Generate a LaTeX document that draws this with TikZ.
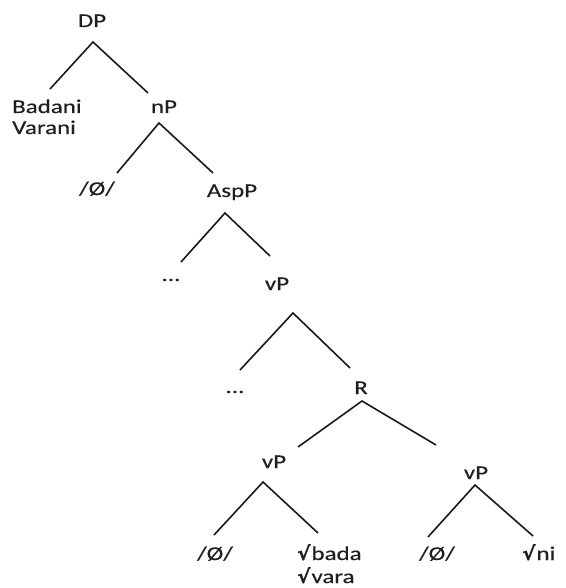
\documentclass[tikz,border=0pt]{standalone}
\usepackage{fontspec}
\setmainfont[FakeStretch=1.28, FakeBold=0.3]{Carlito}
\newfontfamily\rootfont[FakeStretch=1.05, FakeBold=0.8]{DejaVu Sans Bold}
\newcommand{\rt}{{\rootfont\fontsize{19}{19}\selectfont √}\kern1pt}
\begin{document}
\begin{tikzpicture}[x=1pt,y=-1pt,
  lbl/.style={inner sep=0pt, anchor=base, text=black!88,
    font=\fontsize{19.5}{22}\selectfont},
  branch/.style={line width=1.6pt, black!90}]
\useasboundingbox (0,0) rectangle (565,588);

% labels
\node[lbl] (DP) at (92,27) {DP};
\node[lbl, anchor=base west] (BV) at (12,113) {Badani};
\node[lbl, anchor=base west] (BV2) at (12,134) {Varani};
\node[lbl] (nP) at (164,113) {nP};
\node[lbl] (nil1) at (97,195) {/Ø/};
\node[lbl] (AspP) at (232,197) {AspP};
\node[lbl] (dots1) at (171,281) {...};
\node[lbl] (vP1) at (277,290) {vP};
\node[lbl] (dots2) at (235,393) {...};
\node[lbl] (R) at (361,394) {R};
\node[lbl] (vP2) at (274,468) {vP};
\node[lbl] (vP3) at (476,479) {vP};
\node[lbl] (nil2) at (215,560) {/Ø/};
\node[lbl, anchor=base west] (bada) at (297,560) {\rt bada};
\node[lbl, anchor=base west] (vara) at (297,583) {\rt vara};
\node[lbl] (nil3) at (437,560) {/Ø/};
\node[lbl, anchor=base west] (ni) at (522,560) {\rt ni};

% branch end points
\coordinate (DPa) at (93,42);   \coordinate (DPl) at (50,89);   \coordinate (DPr) at (148,93);
\coordinate (nPa) at (159,123); \coordinate (nPl) at (117,173); \coordinate (nPr) at (213,173);
\coordinate (Aa) at (225,213);  \coordinate (Al) at (181,262);  \coordinate (Ar) at (270,256);
\coordinate (v1a) at (293,313); \coordinate (v1l) at (240,370); \coordinate (v1r) at (350,368);
\coordinate (Ra) at (362,401);  \coordinate (Rl) at (298,447);  \coordinate (Rr) at (436,445);
\coordinate (v2a) at (263,482); \coordinate (v2l) at (214,535); \coordinate (v2r) at (318,533);
\coordinate (v3a) at (475,485); \coordinate (v3l) at (428,537); \coordinate (v3r) at (533,536);

% branches
\draw[branch] (DPl) -- (DPa) -- (DPr);
\draw[branch] (nPl) -- (nPa) -- (nPr);
\draw[branch] (Al) -- (Aa) -- (Ar);
\draw[branch] (v1l) -- (v1a) -- (v1r);
\draw[branch] (Rl) -- (Ra) -- (Rr);
\draw[branch] (v2l) -- (v2a) -- (v2r);
\draw[branch] (v3l) -- (v3a) -- (v3r);
\end{tikzpicture}
\end{document}
